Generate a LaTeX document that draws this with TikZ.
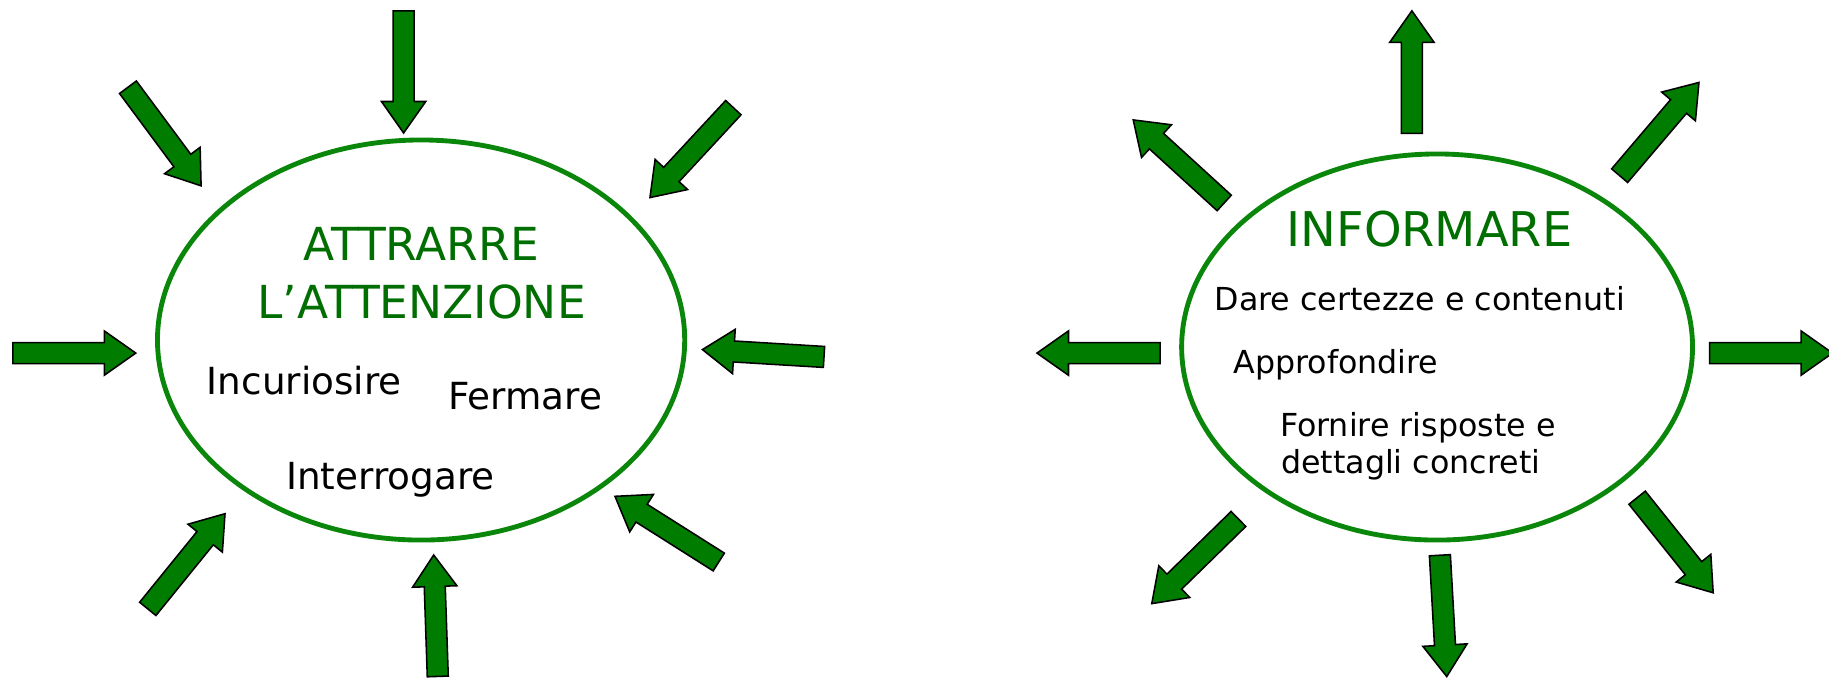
\documentclass[tikz,border=0pt]{standalone}
\usepackage{fontspec}
\setmainfont{DejaVu Sans}
\usetikzlibrary{calc,shapes.geometric}
\definecolor{arrgreen}{RGB}{0,125,0}
\definecolor{ringgreen}{RGB}{10,135,10}
\definecolor{titlegreen}{RGB}{0,110,0}
\tikzset{
  arr/.style={fill=arrgreen,draw=black,line width=0.8pt,line join=miter},
  ring/.style={ellipse,draw=ringgreen,line width=2.5pt,inner sep=0pt},
  lefttitle/.style={text=titlegreen,font=\fontsize{23.4}{26}\selectfont,inner sep=0pt,anchor=base},
  righttitle/.style={text=titlegreen,font=\fontsize{24.6}{28}\selectfont,inner sep=0pt,anchor=base},
  lefttext/.style={font=\fontsize{19.2}{22}\selectfont,inner sep=0pt,anchor=base west},
  righttext/.style={font=\fontsize{16.3}{19}\selectfont,inner sep=0pt,anchor=base west}
}
\newcommand\blockarrow[2]{%
  \coordinate (ba-b) at ($(#2)!16.2pt!(#1)$);
  \draw[arr] ($(#1)!5.4pt!90:(#2)$) -- ($(ba-b)!5.4pt!90:(#2)$) -- ($(ba-b)!11.4pt!90:(#2)$) -- (#2)
    -- ($(ba-b)!11.4pt!-90:(#2)$) -- ($(ba-b)!5.4pt!-90:(#2)$) -- ($(#1)!5.4pt!-90:(#2)$) -- cycle;}
\begin{document}
\begin{tikzpicture}[x=0.6pt,y=-0.6pt]
\useasboundingbox (0,0) rectangle (1568,584);
% ellipses
\node[ring,minimum width=271.2pt,minimum height=205.8pt] (E1) at (361,291.5) {};
\node[ring,minimum width=262.8pt,minimum height=198.6pt] (E2) at (1232,297.5) {};
% left texts
\node[lefttitle] (t1) at (361,223) {ATTRARRE};
\node[lefttitle] (t2) at (361.5,273) {L’ATTENZIONE};
\node[lefttext] (a1) at (177,338) {Incuriosire};
\node[lefttext] (a2) at (384,351) {Fermare};
\node[lefttext] (a3) at (245,420) {Interrogare};
% right texts
\node[righttitle] (t3) at (1225.5,211) {INFORMARE};
\node[righttext] (b1) at (1041,266) {Dare certezze e contenuti};
\node[righttext] (b2) at (1057,320.5) {Approfondire};
\node[righttext] (b3) at (1097,374) {Fornire risposte e};
\node[righttext] (b4) at (1098,406) {dettagli concreti};
% left arrows (inward)
\coordinate (L1a) at (346,9.3);    \coordinate (L1b) at (346,114);
\coordinate (L2a) at (109.7,74.8); \coordinate (L2b) at (172.4,159.3);
\coordinate (L3a) at (628.7,92.3); \coordinate (L3b) at (557.2,169.4);
\coordinate (L4a) at (11,302.7);   \coordinate (L4b) at (116.4,302.7);
\coordinate (L5a) at (706.4,306);  \coordinate (L5b) at (602.2,299.7);
\coordinate (L6a) at (126.7,522);  \coordinate (L6b) at (192.9,440.4);
\coordinate (L7a) at (375.3,579.9);\coordinate (L7b) at (371.8,475.8);
\coordinate (L8a) at (616.2,481.8);\coordinate (L8b) at (527.2,425.5);
\foreach \i in {1,...,8}{\blockarrow{L\i a}{L\i b}}
% right arrows (outward)
\coordinate (R1a) at (1210.4,114.3); \coordinate (R1b) at (1210.4,9.3);
\coordinate (R2a) at (1049.5,174);   \coordinate (R2b) at (971.5,102.8);
\coordinate (R3a) at (1388.5,150.6); \coordinate (R3b) at (1456.5,70.7);
\coordinate (R4a) at (994.6,302.7);  \coordinate (R4b) at (889,302.7);
\coordinate (R5a) at (1465.6,302.7); \coordinate (R5b) at (1571,302.7);
\coordinate (R6a) at (1061.7,444.9); \coordinate (R6b) at (987.4,517.5);
\coordinate (R7a) at (1234.4,476);   \coordinate (R7b) at (1240.3,580);
\coordinate (R8a) at (1403.5,426.7); \coordinate (R8b) at (1468.7,508.2);
\foreach \i in {1,...,8}{\blockarrow{R\i a}{R\i b}}
\end{tikzpicture}
\end{document}
